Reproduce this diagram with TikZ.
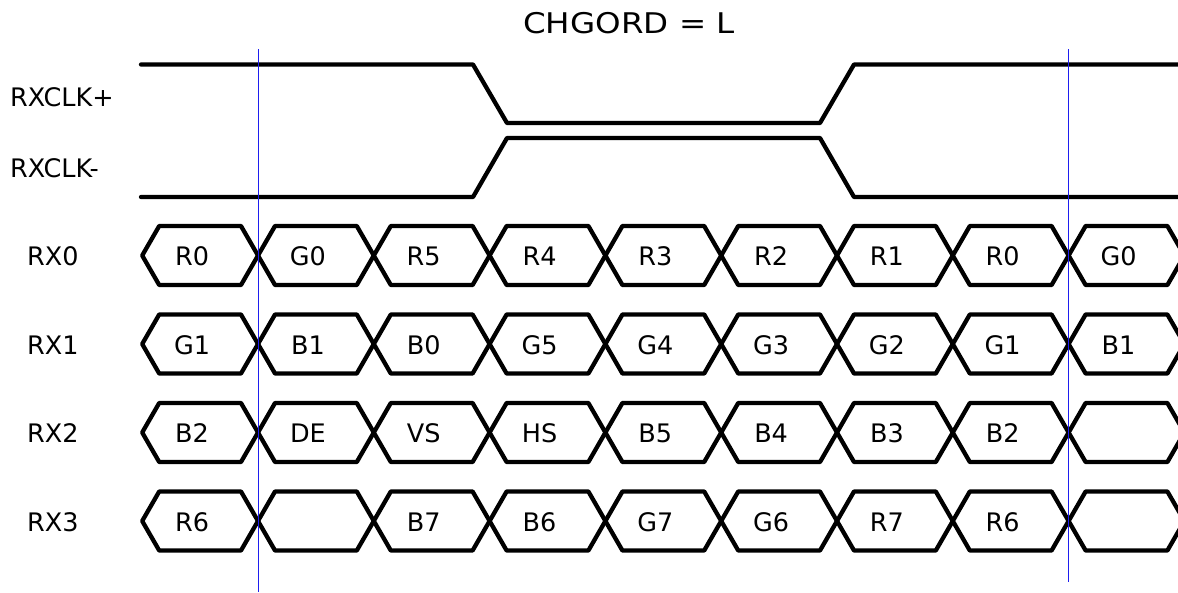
\documentclass[tikz,border=0pt]{standalone}
\usepackage{fontspec}
\setmainfont{DejaVu Sans}
\begin{document}
\begin{tikzpicture}[x=1pt,y=-1pt,
  wave/.style={line width=4.3pt, line join=round, line cap=round},
  marker/.style={draw={rgb,255:red,30;green,30;blue,240}, line width=1pt},
  lbl/.style={font=\fontsize{25.5}{29}\selectfont, inner sep=0pt},
  title/.style={font=\fontsize{28.5}{32}\selectfont, inner sep=0pt, xscale=1.14}]
\useasboundingbox (0,0) rectangle (1178,592);
\clip (0,0) rectangle (1178,592);

% title
\node[title, anchor=base] (ttl) at (629,33.5) {CHGORD = L};

% clock labels
\node[lbl, anchor=base west] (lclkp) at (10,106) {RXCLK+};
\node[lbl, anchor=base west] (lclkn) at (10,177) {RXCLK-};

% clock waveforms
\draw[wave] (141,64.5) -- (473,64.5) -- (507,123) -- (820,123) -- (854,64.5) -- (1195,64.5);
\draw[wave] (141,197) -- (473,197) -- (507,138) -- (820,138) -- (854,197) -- (1195,197);

% data rows
\def\xo{142.2}
\def\per{115.8}
\def\hh{29.5}
\def\dd{17}
\foreach \r/\c in {0/255.5,1/344,2/432.5,3/521}{
  \node[lbl, anchor=base west] (lrx\r) at (27,\c+10) {RX\r};
  \foreach \i in {0,...,8}{
    \pgfmathsetmacro\xl{\xo+\per*\i}
    \pgfmathsetmacro\xr{\xl+\per}
    \draw[wave] (\xl,\c) -- (\xl+\dd,\c-\hh) -- (\xr-\dd,\c-\hh) -- (\xr,\c)
      -- (\xr-\dd,\c+\hh) -- (\xl+\dd,\c+\hh) -- cycle;
  }
}

% cell labels
\newcommand{\celllabels}[3]{%
  \foreach \i/\t in {#3}{
    \pgfmathsetmacro\xm{\xo+\per*\i+\per/2-8}
    \node[lbl, anchor=base] (c#1n\i) at (\xm,#2+10) {\t};
  }}
\celllabels{0}{255.5}{0/R0,1/G0,2/R5,3/R4,4/R3,5/R2,6/R1,7/R0,8/G0}
\celllabels{1}{344}{0/G1,1/B1,2/B0,3/G5,4/G4,5/G3,6/G2,7/G1,8/B1}
\celllabels{2}{432.5}{0/B2,1/DE,2/VS,3/HS,4/B5,5/B4,6/B3,7/B2}
\celllabels{3}{521}{0/R6,2/B7,3/B6,4/G7,5/G6,6/R7,7/R6}

% marker lines
\coordinate (m1t) at (258,49);
\coordinate (m1b) at (258,592);
\coordinate (m2t) at (1068.6,49);
\coordinate (m2b) at (1068.6,582);
\draw[marker] (m1t) -- (m1b);
\draw[marker] (m2t) -- (m2b);
\end{tikzpicture}
\end{document}
